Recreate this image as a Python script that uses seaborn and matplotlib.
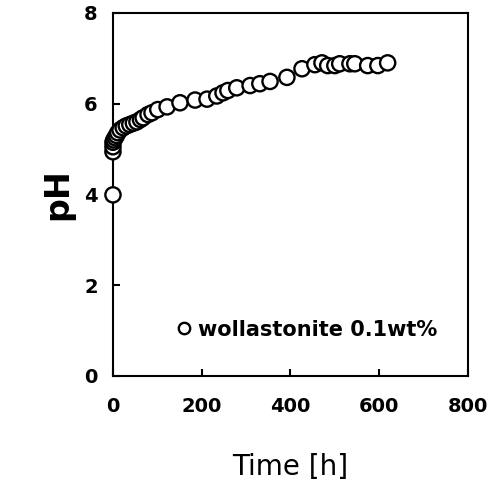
import matplotlib
matplotlib.use("Agg")
import matplotlib.pyplot as plt
import seaborn as sns
import pandas as pd

time_h = [0, 0, 0, 0, 2, 5, 8, 11, 16, 23, 30, 38, 46, 54, 62, 68, 79, 88, 101, 122, 151,
          185, 212, 234, 248, 259, 279, 309, 331, 354, 392, 426, 455, 471, 484, 500, 511,
          534, 545, 574, 597, 619]
ph = [3.99, 4.94, 5.05, 5.15, 5.20, 5.25, 5.30, 5.36, 5.42, 5.47, 5.51, 5.54, 5.57, 5.60,
      5.65, 5.69, 5.76, 5.80, 5.87, 5.93, 6.02, 6.08, 6.10, 6.17, 6.24, 6.29, 6.35, 6.40,
      6.44, 6.49, 6.58, 6.77, 6.86, 6.90, 6.84, 6.84, 6.88, 6.88, 6.88, 6.84, 6.84, 6.90]
series_label = "wollastonite 0.1wt%"
x_ticks = [0, 200, 400, 600, 800]
y_ticks = [0, 2, 4, 6, 8]

df = pd.DataFrame({"Time [h]": time_h, "pH": ph, "series": series_label})

sns.set_style("white")
plt.rcParams.update({
    "font.family": ["DejaVu Sans"],
    "text.color": "black",
    "axes.labelcolor": "black",
    "xtick.color": "black",
    "ytick.color": "black",
    "axes.edgecolor": "black",
})

fig = plt.figure(figsize=(4.89, 4.80), dpi=100)
ax = fig.add_axes([0.231, 0.217, 0.726, 0.756])

sns.scatterplot(data=df, x="Time [h]", y="pH", hue="series", palette=["white"],
                edgecolor="black", linewidth=1.7, s=120, marker="o", ax=ax,
                clip_on=False, zorder=3)

ax.set_xlim(0, 800)
ax.set_ylim(0, 8)
ax.set_xticks(x_ticks)
ax.set_yticks(y_ticks)
for sp in ax.spines.values():
    sp.set_linewidth(1.5)
    sp.set_color("black")
ax.tick_params(direction="in", length=5, width=1.5, bottom=True, left=True,
               top=False, right=False, labelsize=14, color="black", labelcolor="black")
ax.tick_params(axis="x", pad=15)
ax.tick_params(axis="y", pad=11)
for lab in ax.get_xticklabels() + ax.get_yticklabels():
    lab.set_fontweight("bold")

ax.set_xlabel("Time [h]", fontsize=20, labelpad=27, color="black")
ax.set_ylabel("pH", fontsize=24, fontweight="bold", labelpad=7, color="black")

leg = ax.legend(loc="center left", bbox_to_anchor=(0.165, 0.127), frameon=False,
                markerscale=0.75, handletextpad=0.05, handlelength=1.2, borderpad=0,
                borderaxespad=0, prop={"size": 15, "weight": "bold"})
for t in leg.get_texts():
    t.set_color("black")

fig.savefig("out.png", dpi=100)
